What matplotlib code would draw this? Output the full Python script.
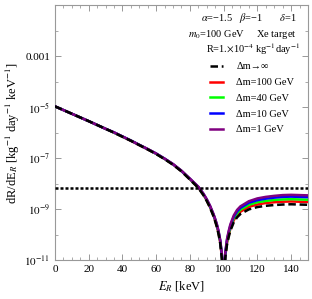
import numpy as np
import matplotlib
matplotlib.use("Agg")
import matplotlib.pyplot as plt

plt.rcParams['font.family'] = ['Liberation Serif', 'DejaVu Serif']
plt.rcParams['mathtext.fontset'] = 'stix'

# recoil energy grid [keV]
E_R = [0, 5, 10, 15, 20, 25, 30, 35, 40, 45, 50, 55, 60, 65, 70, 75, 80, 85,
       88, 90, 92, 94, 95, 96, 97, 98, 99, 100,
       101, 102, 103, 104, 106, 108, 110, 115, 120, 125, 130, 135, 140, 145, 150]

# log10 of dR/dE_R [kg^-1 day^-1 keV^-1] for dm -> infinity
log_inf = [-4.97, -5.115, -5.26, -5.405, -5.55, -5.70, -5.85, -6.00, -6.16, -6.32,
           -6.49, -6.66, -6.84, -7.04, -7.26, -7.52, -7.84, -8.17,
           -8.45, -8.68, -8.95, -9.28, -9.48, -9.70, -9.98, -10.35, -10.95, -12.0,
           -10.9, -10.4, -10.1, -9.85, -9.52, -9.32, -9.19, -9.01, -8.92, -8.87,
           -8.84, -8.82, -8.81, -8.82, -8.83]

# how far (in decades) each finite-dm curve sits above the dm -> infinity one
up_100 = [0, 0, 0, 0, 0, 0, 0, 0, 0, 0, 0, 0, .01, .01, .01, .01, .01, .02,
          .02, .02, .02, .03, .03, .03, .04, .04, .05, 0,
          .06, .07, .07, .08, .08, .09, .09, .10, .10, .11, .11, .11, .11, .11, .11]
up_40 = [0, 0, 0, 0, 0, 0, 0, 0, 0, .01, .01, .01, .01, .01, .02, .02, .02, .03,
         .03, .04, .04, .05, .06, .06, .07, .08, .10, 0,
         .11, .12, .13, .14, .15, .16, .17, .18, .19, .19, .20, .20, .20, .20, .20]
up_10 = [0, 0, 0, 0, 0, 0, 0, .01, .01, .01, .01, .01, .02, .02, .02, .02, .03, .04,
         .05, .06, .06, .07, .08, .09, .10, .11, .14, 0,
         .16, .18, .19, .20, .22, .23, .24, .26, .27, .28, .29, .30, .30, .30, .30]
up_1 = [0, 0, 0, 0, 0, 0, 0, .01, .01, .01, .01, .02, .02, .02, .03, .03, .04, .05,
        .06, .07, .08, .09, .10, .11, .12, .14, .18, 0,
        .20, .22, .24, .25, .27, .29, .30, .32, .34, .35, .36, .37, .37, .37, .37]

threshold = 6.8e-9

labels = ["Δm→∞", "Δm=100 GeV", "Δm=40 GeV", "Δm=10 GeV", "Δm=1 GeV"]

fig = plt.figure(figsize=(3.12, 2.99), dpi=100)
ax = fig.add_axes([0.176, 0.130, 0.811, 0.853])

E = np.array(E_R)
base = np.array(log_inf)
lw = 1.8
h_inf, = ax.plot(E, 10.0 ** base, color='black', ls=(0, (3, 1.5)), lw=lw, zorder=6)
h100, = ax.plot(E, 10.0 ** (base + np.array(up_100)), color=(1, 0, 0), lw=lw, zorder=2)
h40, = ax.plot(E, 10.0 ** (base + np.array(up_40)), color=(0, 1, 0), lw=lw, zorder=3)
h10, = ax.plot(E, 10.0 ** (base + np.array(up_10)), color=(0, 0, 1), lw=lw, zorder=4)
h1, = ax.plot(E, 10.0 ** (base + np.array(up_1)), color=(0.5, 0, 0.5), lw=lw, zorder=5)

ax.axhline(threshold, color='black', ls=(0, (1.2, 0.8)), lw=1.8, zorder=7)

ax.set_yscale('log')
ax.set_xlim(0, 150)
ax.set_ylim(1e-11, 1e-1)

ax.set_xticks([0, 20, 40, 60, 80, 100, 120, 140])
ax.set_xticks(np.arange(0, 151, 5), minor=True)
ax.set_yticks([1e-11, 1e-9, 1e-7, 1e-5, 1e-3],
              [r'$10^{-11}$', r'$10^{-9}$', r'$10^{-7}$', r'$10^{-5}$', '0.001'])
ax.set_yticks([1e-10, 1e-8, 1e-6, 1e-4, 1e-2], minor=True)
ax.yaxis.set_minor_formatter(matplotlib.ticker.NullFormatter())

ax.tick_params(which='both', direction='in', top=True, right=True,
               color='#888888', labelsize=8)
ax.tick_params(which='major', length=4, width=0.6)
ax.tick_params(which='minor', length=2, width=0.5)
for s in ax.spines.values():
    s.set_color('#999999')
    s.set_linewidth(0.8)

ax.set_xlabel(r'$E_R$ [keV]', fontsize=9, labelpad=4)
ax.set_ylabel(r'dR/dE$_R$ [kg$^{-1}$ day$^{-1}$ keV$^{-1}$]', fontsize=9, labelpad=2)

ax.text(0.955, 0.948, r'$\alpha$=−1.5   $\beta$=−1       $\delta$=1', transform=ax.transAxes,
        ha='right', va='center', fontsize=7.5)
ax.text(0.955, 0.886, r'$m_0$=100 GeV     Xe target', transform=ax.transAxes,
        ha='right', va='center', fontsize=7.5)
ax.text(0.97, 0.828, r'R=1.$\times$10$^{-4}$ kg$^{-1}$day$^{-1}$', transform=ax.transAxes,
        ha='right', va='center', fontsize=7.5)

leg = ax.legend([h_inf, h100, h40, h10, h1], labels, loc='upper left',
                bbox_to_anchor=(0.585, 0.805), frameon=False, fontsize=7.5,
                handlelength=1.2, handletextpad=1.3, labelspacing=0.62,
                borderpad=0.2)

fig.savefig('out.png', dpi=100)
